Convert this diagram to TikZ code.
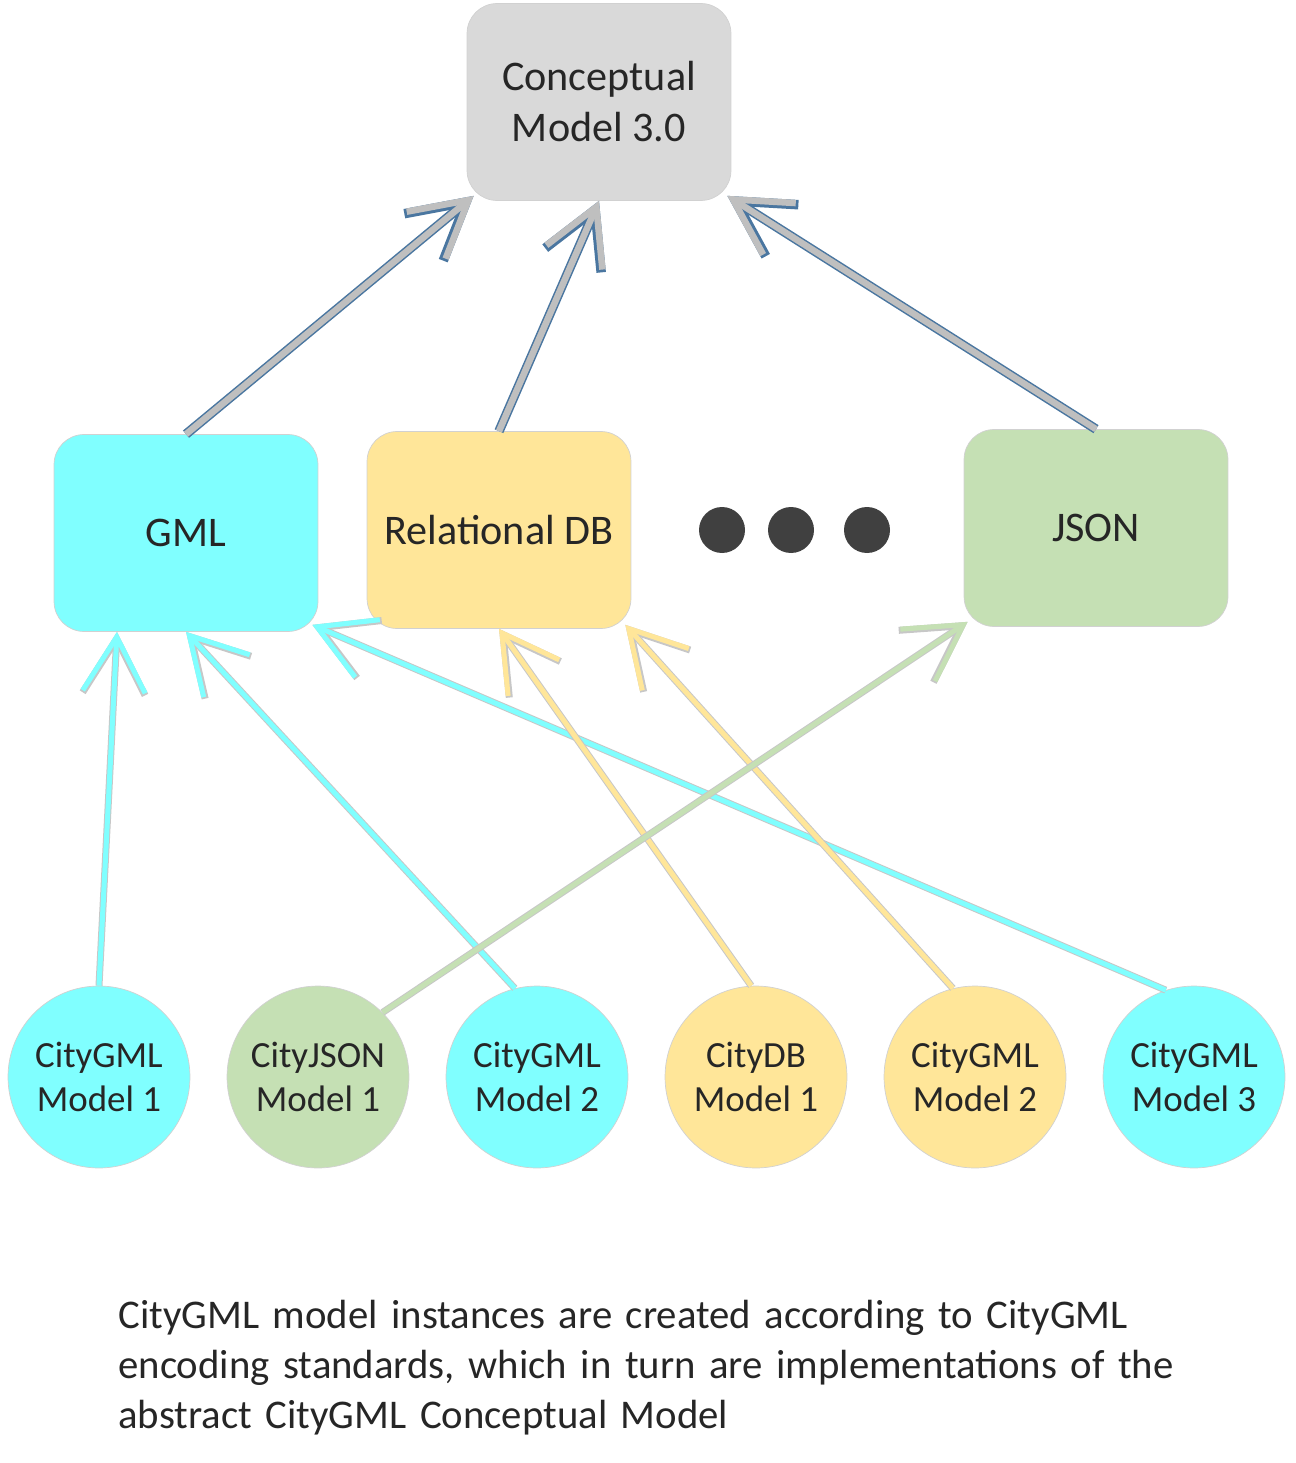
\documentclass[tikz,border=0pt]{standalone}
\usepackage{fontspec}
\setmainfont{Carlito}
\usepackage{tikz}
\usetikzlibrary{arrows.meta}
\definecolor{cmgray}{HTML}{D9D9D9}
\definecolor{gmlcyan}{HTML}{80FFFF}
\definecolor{dbyellow}{HTML}{FFE699}
\definecolor{jsongreen}{HTML}{C5E0B4}
\definecolor{implblue}{HTML}{4A76A0}
\definecolor{impllight}{HTML}{BFBFBF}
\definecolor{dotgray}{HTML}{404040}
\tikzset{
    encbox/.style={rectangle, rounded corners=0.6cm, draw=black!18, minimum width=5.28cm, minimum height=3.94cm, align=center, font=\fontsize{24}{29}\selectfont},
    instcirc/.style={circle, draw=black!18, minimum size=3.64cm, inner sep=0pt, align=center, font=\fontsize{21}{25}\selectfont},
    ellip/.style={circle, fill=dotgray, minimum size=0.92cm, inner sep=0pt},
    implout/.style={draw=implblue, line width=0.19cm, -{Straight Barb[length=1.1cm, width=1.22cm]}},
    implin/.style={draw=impllight, line width=0.13cm, -{Straight Barb[length=1.1cm, width=1.22cm]}},
    instout/.style={draw=black!22, line width=0.14cm, -{Straight Barb[length=1.1cm, width=1.25cm]}},
    instin/.style={draw=#1, line width=0.1cm, -{Straight Barb[length=1.1cm, width=1.25cm]}}
}
\newcommand{\implarrow}[2]{\draw[implout] (#1) -- (#2); \draw[implin] (#1) -- (#2);}
\newcommand{\instarrow}[3]{\draw[instout] (#2) -- (#3); \draw[instin=#1] (#2) -- (#3);}

\begin{document}
\begin{tikzpicture}
  [
    x                 = 0.02cm,
    y                 = -0.02cm,
    every node/.style = {text=black!85},
  ]
  \useasboundingbox (0,0) rectangle (1295,1463);
  % conceptual model and encodings
  \node [encbox, fill=cmgray]    (cm)   at (599,102)  {Conceptual\\Model 3.0};
  \node [encbox, fill=gmlcyan]   (gml)  at (186,533)  {GML};
  \node [encbox, fill=dbyellow]  (rdb)  at (499,530)  {Relational DB};
  \node [encbox, fill=jsongreen] (json) at (1096,528) {JSON};
  \foreach \i/\x in {1/722, 2/791, 3/867}
    \node [ellip] (dot\i) at (\x,530) {};
  % model instances
  \node [instcirc, fill=gmlcyan]   (inst1) at (99,1077)   {CityGML\\Model 1};
  \node [instcirc, fill=jsongreen] (inst2) at (318,1077)  {CityJSON\\Model 1};
  \node [instcirc, fill=gmlcyan]   (inst3) at (537,1077)  {CityGML\\Model 2};
  \node [instcirc, fill=dbyellow]  (inst4) at (756,1077)  {CityDB\\Model 1};
  \node [instcirc, fill=dbyellow]  (inst5) at (975,1077)  {CityGML\\Model 2};
  \node [instcirc, fill=gmlcyan]   (inst6) at (1194,1077) {CityGML\\Model 3};
  % encodings -> conceptual model
  \implarrow{gml.north}{[shift={(0.14cm,0.1cm)}]cm.south west}
  \implarrow{rdb.north}{cm.south}
  \implarrow{json.north}{[shift={(-0.08cm,0.1cm)}]cm.south east}
  % instances -> encodings
  \instarrow{gmlcyan}{inst1.north}{[xshift=-1.38cm]gml.south}
  \instarrow{gmlcyan}{inst3.104}{gml.south}
  \instarrow{gmlcyan}{inst6.108}{[shift={(-0.12cm,0.14cm)}]gml.south east}
  \instarrow{dbyellow}{inst4.93}{rdb.south}
  \instarrow{dbyellow}{inst5.104}{[shift={(-0.12cm,0.08cm)}]rdb.south east}
  \instarrow{jsongreen}{inst2.45}{[shift={(0.08cm,0.1cm)}]json.south west}
  % caption
  \node [anchor=north west, inner sep=0pt, text width=24cm, align=left,
         font=\fontsize{23.2}{28.5}\selectfont] (caption) at (118,1300)
    {CityGML model instances are created according to CityGML\\
     encoding standards, which in turn are implementations of the\\
     abstract CityGML Conceptual Model};
\end{tikzpicture}
\end{document}
